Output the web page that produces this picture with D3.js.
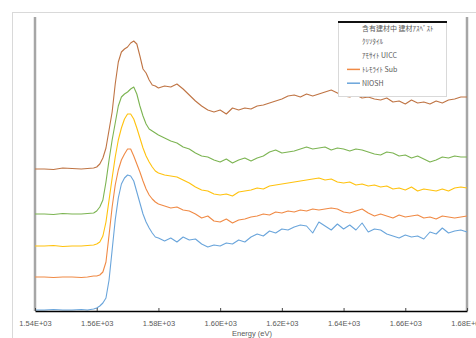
<!DOCTYPE html>
<html>
<head>
<meta charset="utf-8">
<script src="https://cdn.jsdelivr.net/npm/d3@7"></script>
<style>
  html, body { margin: 0; padding: 0; background: #fff; }
  svg text { font-family: "Liberation Sans", Arial, sans-serif; }
</style>
</head>
<body>
<div id="chart"></div>
<script>
// energies (eV)
const energy = [1540, 1543, 1546, 1549, 1552, 1555, 1557, 1559,
  1560, 1561, 1562, 1563, 1564, 1565, 1566, 1567, 1568, 1569, 1570,
  1571, 1572, 1573, 1574, 1575, 1576, 1577, 1578, 1579, 1580,
  1582, 1584, 1586, 1588, 1590, 1592, 1594, 1596, 1598, 1600,
  1602, 1604, 1606, 1608, 1610, 1612, 1614, 1616, 1618, 1620,
  1622, 1624, 1626, 1628, 1630, 1632, 1634, 1636, 1638, 1640,
  1642, 1644, 1646, 1648, 1650, 1652, 1654, 1656, 1658, 1660,
  1662, 1664, 1666, 1668, 1670, 1672, 1674, 1676, 1678, 1680];

// offset absorbance, top to bottom
const brown = [1.42, 1.42, 1.415, 1.43, 1.425, 1.42, 1.425, 1.43,
  1.44, 1.47, 1.53, 1.63, 1.81, 1.99, 2.27, 2.49, 2.59, 2.62, 2.64,
  2.68, 2.70, 2.67, 2.55, 2.42, 2.38, 2.31, 2.26, 2.25, 2.23,
  2.25, 2.24, 2.27, 2.22, 2.16, 2.10, 2.05, 2.01, 1.99, 2.01,
  1.97, 2.03, 2.01, 2.03, 2.02, 2.05, 2.06, 2.08, 2.10, 2.12,
  2.15, 2.16, 2.14, 2.17, 2.15, 2.17, 2.19, 2.21, 2.18, 2.15,
  2.14, 2.16, 2.13, 2.14, 2.12, 2.11, 2.13, 2.09, 2.10, 2.07,
  2.11, 2.08, 2.09, 2.07, 2.10, 2.08, 2.11, 2.12, 2.14, 2.14];
const green = [0.97, 0.97, 0.965, 0.975, 0.97, 0.97, 0.975, 0.98,
  1.00, 1.04, 1.11, 1.29, 1.51, 1.71, 1.88, 2.05, 2.14, 2.17, 2.19,
  2.22, 2.24, 2.17, 2.05, 1.95, 1.87, 1.82, 1.80, 1.78, 1.76,
  1.73, 1.70, 1.68, 1.64, 1.62, 1.58, 1.55, 1.54, 1.51, 1.49,
  1.52, 1.48, 1.51, 1.53, 1.50, 1.53, 1.55, 1.59, 1.61, 1.58,
  1.59, 1.60, 1.62, 1.64, 1.62, 1.63, 1.64, 1.61, 1.63, 1.62,
  1.60, 1.62, 1.61, 1.59, 1.57, 1.56, 1.59, 1.58, 1.55, 1.56,
  1.53, 1.55, 1.52, 1.49, 1.51, 1.54, 1.53, 1.55, 1.54, 1.54];
const yellow = [0.65, 0.65, 0.655, 0.645, 0.65, 0.65, 0.655, 0.66,
  0.67, 0.69, 0.75, 0.89, 1.11, 1.33, 1.54, 1.71, 1.83, 1.92, 1.97,
  1.97, 1.92, 1.83, 1.73, 1.63, 1.55, 1.49, 1.44, 1.40, 1.38,
  1.36, 1.35, 1.34, 1.31, 1.28, 1.24, 1.21, 1.20, 1.17, 1.16,
  1.17, 1.15, 1.19, 1.20, 1.21, 1.23, 1.22, 1.25, 1.26, 1.27,
  1.28, 1.29, 1.30, 1.31, 1.32, 1.33, 1.31, 1.32, 1.29, 1.28,
  1.29, 1.26, 1.27, 1.25, 1.26, 1.24, 1.25, 1.22, 1.23, 1.21,
  1.24, 1.20, 1.22, 1.21, 1.20, 1.22, 1.20, 1.23, 1.24, 1.23];
const orange = [0.34, 0.34, 0.335, 0.34, 0.34, 0.335, 0.34, 0.35,
  0.35, 0.36, 0.39, 0.49, 0.76, 1.04, 1.26, 1.41, 1.51, 1.57, 1.62,
  1.62, 1.55, 1.47, 1.39, 1.30, 1.22, 1.16, 1.12, 1.09, 1.07,
  1.05, 1.03, 1.04, 1.01, 1.00, 0.97, 0.93, 0.95, 0.90, 0.89,
  0.92, 0.88, 0.91, 0.92, 0.94, 0.95, 0.97, 0.96, 0.99, 0.98,
  1.00, 0.99, 1.01, 1.00, 1.02, 1.01, 1.02, 1.03, 1.02, 0.99,
  0.98, 1.00, 1.02, 0.98, 0.95, 0.97, 0.95, 0.93, 0.96, 0.94,
  0.95, 0.96, 0.93, 0.94, 0.92, 0.95, 0.94, 0.93, 0.94, 0.95];
const blue = [0.01, 0.01, 0.015, 0.01, 0.01, 0.015, 0.01, 0.02,
  0.03, 0.05, 0.08, 0.13, 0.31, 0.61, 0.91, 1.13, 1.27, 1.33, 1.36,
  1.35, 1.30, 1.19, 1.08, 0.97, 0.89, 0.83, 0.78, 0.74, 0.73,
  0.70, 0.73, 0.69, 0.74, 0.71, 0.72, 0.67, 0.64, 0.66, 0.65,
  0.68, 0.67, 0.71, 0.69, 0.74, 0.77, 0.75, 0.80, 0.78, 0.82,
  0.81, 0.84, 0.86, 0.85, 0.78, 0.89, 0.85, 0.81, 0.87, 0.82,
  0.86, 0.81, 0.88, 0.79, 0.82, 0.81, 0.77, 0.75, 0.73, 0.76,
  0.74, 0.75, 0.72, 0.79, 0.77, 0.83, 0.78, 0.80, 0.81, 0.79];

const seriesNames = ["含有建材中 建材ｱｽﾍﾞｽﾄ", "ｸﾘｿﾀｲﾙ", "ｱﾓｻｲﾄ UICC", "ﾄﾚﾓﾗｲﾄ Sub", "NIOSH"];
const seriesColors = ["#bf7444", "#7cb452", "#ffc20e", "#f08a45", "#6aa5db"];
const legendSwatch = [false, false, false, true, true];
const xTicks = [1540, 1560, 1580, 1600, 1620, 1640, 1660, 1680];

const series = [brown, green, yellow, orange, blue];

const width = 476, height = 338;
const margin = { top: 17, right: 9, bottom: 27, left: 35 };
const plotW = width - margin.left - margin.right;
const plotH = height - margin.top - margin.bottom;

const svg = d3.select("#chart").append("svg")
  .attr("width", width)
  .attr("height", height);

// outer chart frame
svg.append("rect")
  .attr("x", 12.5).attr("y", 12.5)
  .attr("width", 480).attr("height", 340)
  .attr("fill", "none")
  .attr("stroke", "#d9d9d9");

const g = svg.append("g")
  .attr("transform", `translate(${margin.left},${margin.top})`);

const x = d3.scaleLinear().domain([1540, 1680]).range([0, plotW]);
const y = d3.scaleLinear().domain([0, 2.94]).range([plotH, 0]);

// left and right borders of the plot
g.append("line")
  .attr("x1", 0).attr("x2", 0).attr("y1", 0).attr("y2", plotH)
  .attr("stroke", "#a6a6a6").attr("stroke-width", 2.5);
g.append("line")
  .attr("x1", plotW).attr("x2", plotW).attr("y1", 0).attr("y2", plotH)
  .attr("stroke", "#a6a6a6").attr("stroke-width", 2.5);

const line = d3.line()
  .x((d, i) => x(energy[i]))
  .y(d => y(d));

g.selectAll(".spec")
  .data(series)
  .enter().append("path")
  .attr("class", "spec")
  .attr("d", d => line(d))
  .attr("fill", "none")
  .attr("stroke", (d, i) => seriesColors[i])
  .attr("stroke-width", 1.1)
  .attr("stroke-linejoin", "round");

// x axis
const xAxis = g.append("g")
  .attr("transform", `translate(0,${plotH})`)
  .call(d3.axisBottom(x)
    .tickValues(xTicks)
    .tickSizeInner(-3)
    .tickSizeOuter(0)
    .tickPadding(10)
    .tickFormat(d => d3.format(".2e")(d).toUpperCase().replace("E+", "E+0")));
xAxis.select(".domain").attr("stroke", "#000").attr("stroke-width", 1.5);
xAxis.selectAll(".tick line").attr("stroke", "#444");
xAxis.selectAll("text")
  .attr("fill", "#595959")
  .style("font-size", "7.5px");

svg.append("text")
  .attr("x", 252).attr("y", 336)
  .attr("text-anchor", "middle")
  .attr("fill", "#595959")
  .style("font-size", "7.5px")
  .text("Energy (eV)");

// legend
const lg = svg.append("g").attr("transform", "translate(338,21)");
lg.append("rect")
  .attr("x", 0.5).attr("y", 0.5)
  .attr("width", 108).attr("height", 75)
  .attr("fill", "#fff")
  .attr("stroke", "#d9d9d9");
lg.append("line")
  .attr("x1", 0).attr("x2", 109).attr("y1", 1).attr("y2", 1)
  .attr("stroke", "#111").attr("stroke-width", 2);

const item = lg.selectAll(".item")
  .data(seriesNames)
  .enter().append("g")
  .attr("class", "item")
  .attr("transform", (d, i) => `translate(0,${7 + i * 13.8})`);
item.filter((d, i) => legendSwatch[i]).append("line")
  .attr("x1", 9).attr("x2", 22).attr("y1", 0).attr("y2", 0)
  .attr("stroke", d => seriesColors[seriesNames.indexOf(d)])
  .attr("stroke-width", 1.5);
item.append("text")
  .attr("x", 24).attr("y", 2.5)
  .attr("fill", "#595959")
  .style("font-family", "'Noto Sans CJK JP', sans-serif")
  .style("font-size", "7px")
  .text(d => d);
</script>
</body>
</html>
